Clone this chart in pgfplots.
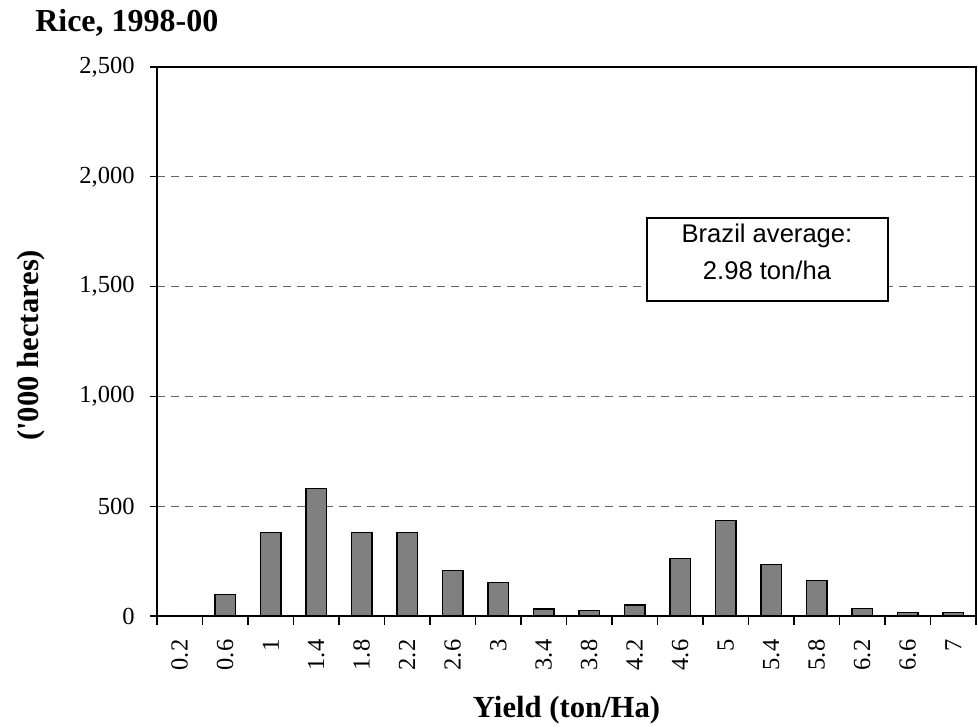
\documentclass[border=0pt]{standalone}
\usepackage{fontspec}
\setmainfont{Liberation Serif}
\newfontfamily\arialfont{Liberation Sans}
\usepackage{pgfplots}
\pgfplotsset{compat=1.18}
\begin{document}
\begin{tikzpicture}[x=1pt,y=1pt]
\useasboundingbox (0,0) rectangle (733.5,546);
\begin{axis}[
  at={(117.75pt,84pt)}, anchor=south west,
  scale only axis, width=614.25pt, height=411.75pt,
  xmin=-0.5, xmax=17.5, ymin=0, ymax=2500,
  ybar, bar width=0.4545,
  xtick={0,...,17},
  xticklabels={0.2,0.6,1,1.4,1.8,2.2,2.6,3,3.4,3.8,4.2,4.6,5,5.4,5.8,6.2,6.6,7},
  minor xtick={-0.5,0.5,1.5,2.5,3.5,4.5,5.5,6.5,7.5,8.5,9.5,10.5,11.5,12.5,13.5,14.5,15.5,16.5,17.5},
  ytick={0,500,1000,1500,2000,2500},
  yticklabels={0,500,{1,000},{1,500},{2,000},{2,500}},
  tick align=outside,
  xtick pos=bottom, ytick pos=left,
  major tick length=5.25pt, minor tick length=6.75pt,
  every tick/.style={black, line width=0.9pt},
  major x tick style={draw=none},
  xticklabel shift=9pt,
  yticklabel shift=8pt,
  x tick label style={rotate=90, anchor=east, font=\fontsize{18.4}{20}\selectfont},
  y tick label style={font=\fontsize{18.4}{20}\selectfont},
  ymajorgrids,
  major grid style={dash pattern=on 6pt off 4.5pt, black!60, line width=0.9pt},
  axis line style={line width=1.5pt},
]
\addplot[fill=black!50, draw=black, line width=1.1pt] coordinates {
(0,0) (1,99) (2,381) (3,580) (4,381) (5,381) (6,208) (7,152) (8,32)
(9,24) (10,51) (11,261) (12,434) (13,234) (14,161) (15,35) (16,15) (17,15)};
\end{axis}
\draw[line width=1.1pt, fill=white] (485.25,320.25) rectangle (666,382.5);
\node[anchor=base, inner sep=0] at (575.25,363.75) {\arialfont\fontsize{19.2}{22}\selectfont Brazil average:};
\node[anchor=base, inner sep=0] at (575.25,336) {\arialfont\fontsize{19.2}{22}\selectfont 2.98 ton/ha};
\node[anchor=base west, inner sep=0] at (26.25,522) {\bfseries\fontsize{24}{28}\selectfont Rice, 1998-00};
\node[anchor=base, inner sep=0] at (424.9,7.5) {\bfseries\fontsize{23}{26}\selectfont Yield (ton/Ha)};
\node[rotate=90, anchor=center, inner sep=0] at (23.25,287) {\bfseries\fontsize{23}{26}\selectfont (\textquotesingle 000 hectares)};
\end{tikzpicture}
\end{document}
